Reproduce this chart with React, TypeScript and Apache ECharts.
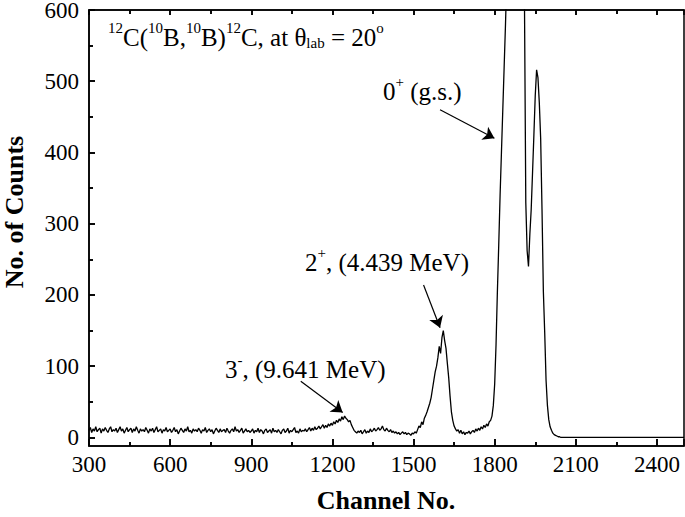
import { useEffect, useRef } from "react";
import * as echarts from "echarts";

// Background region: channels 300..1495, every 5 channels
const BG_START = 300;
const BG_STEP = 5;
const bgCounts = [
  10, 14, 7, 12, 9, 15, 8, 11, 13, 6, 12, 9, 14, 10, 7, 12, 15, 8, 11, 9,
  13, 7, 11, 15, 9, 12, 6, 10, 14, 8, 11, 13, 7, 12, 9, 15, 10, 6, 12, 9,
  11, 8, 14, 10, 6, 12, 9, 13, 7, 11, 15, 8, 10, 12, 6, 11, 9, 14, 8, 10,
  12, 7, 10, 14, 8, 11, 5, 9, 13, 10, 7, 12, 9, 15, 8, 10, 6, 12, 9, 11,
  8, 13, 10, 6, 11, 9, 14, 7, 10, 12, 8, 11, 5, 9, 13, 10, 7, 12, 8, 10,
  11, 7, 13, 9, 6, 10, 12, 8, 15, 9, 11, 7, 10, 13, 6, 9, 12, 8, 10, 7,
  9, 12, 6, 10, 8, 13, 7, 11, 9, 5, 10, 12, 7, 9, 11, 6, 13, 8, 10, 7,
  11, 8, 5, 10, 12, 7, 9, 13, 6, 10, 8, 11, 14, 7, 9, 6, 12, 8, 10, 9,
  12, 8, 11, 14, 9, 13, 10, 15, 11, 13, 16, 12, 15, 18, 13, 17, 14, 19, 16, 20,
  17, 22, 19, 24, 21, 26, 23, 29, 25, 30, 27, 25, 22, 24, 18, 14, 10, 8, 6, 9,
  7, 10, 5, 8, 11, 6, 9, 7, 12, 8, 10, 13, 9, 11, 14, 10, 12, 16, 11, 9,
  13, 10, 8, 11, 7, 9, 6, 8, 5, 7, 4, 6, 8, 5, 7, 4, 6, 5, 3, 6,
];

// Peak region: channels 1500..2060, every 5 channels
const PEAK_START = 1500;
const PEAK_STEP = 5;
const peakCounts = [
  5, 8, 6, 11, 16, 14, 22, 18, 27, 31,
  36, 42, 48, 56, 68, 80, 92, 100, 112, 128,
  118, 140, 150, 136, 125, 104, 84, 58, 36, 24,
  16, 12, 9, 11, 6, 10, 5, 8, 4, 7,
  6, 9, 5, 8, 10, 7, 12, 9, 13, 10,
  15, 12, 17, 14, 19, 16, 22, 24, 30, 45,
  75, 130, 205, 270, 340, 400, 460, 520, 580, 650,
  730, 820, 910, 990, 1050, 1090, 1080, 1040, 960, 860,
  780, 720, 620, 330, 262, 240, 285, 320, 372, 425,
  480, 516, 505, 470, 420, 320, 205, 147, 80, 45,
  25, 15, 10, 6, 4, 3, 2, 1, 1, 0,
  0, 0, 0,
];

// Flat tail
const tailChannels = [2100, 2500];
const tailCounts = [0, 0];

const X_MIN = 300;
const X_MAX = 2500;
const Y_MIN = -12;
const Y_MAX = 600;
const xMajorTicks = [300, 600, 900, 1200, 1500, 1800, 2100, 2400];
const xMinorTicks = [450, 750, 1050, 1350, 1650, 1950, 2250];
const yMajorTicks = [0, 100, 200, 300, 400, 500, 600];
const yMinorTicks = [50, 150, 250, 350, 450, 550];

// Annotation arrows
const arrowFrom = [
  [1598, 460],
  [1537, 214],
  [1083, 79],
];
const arrowTo = [
  [1799, 420],
  [1598, 154],
  [1238, 35],
];

const labelTexts = [
  "{sup|12}{n|C(}{sup|10}{n|B,}{sup|10}{n|B)}{sup|12}{n|C, at θ}{sub|lab}{n| = 20}{sup|o}",
  "{n|0}{sup|+}{n| (g.s.)}",
  "{n|2}{sup|+}{n|, (4.439 MeV)}",
  "{n|3}{sup|-}{n|, (9.641 MeV)}",
];
const labelPos = [
  [108, 20],
  [383, 74],
  [305, 245],
  [225, 352],
];

const FONT = "Liberation Serif";

export default function App() {
  const ref = useRef<HTMLDivElement>(null);
  useEffect(() => {
    document.body.style.margin = "0";
    if (!ref.current) return;
    const chart = echarts.init(ref.current, null, { renderer: "svg" });

    const data: number[][] = [];
    bgCounts.forEach((c, i) => data.push([BG_START + i * BG_STEP, c]));
    peakCounts.forEach((c, i) => data.push([PEAK_START + i * PEAK_STEP, c]));
    tailChannels.forEach((ch, i) => data.push([ch, tailCounts[i]]));

    const rich = {
      n: { fontSize: 25, lineHeight: 30, verticalAlign: "bottom", fontFamily: FONT, fill: "#000" },
      sup: { fontSize: 15, lineHeight: 21, verticalAlign: "top", fontFamily: FONT, fill: "#000" },
      sub: { fontSize: 15, lineHeight: 15, verticalAlign: "bottom", fontFamily: FONT, fill: "#000" },
    };

    const axisLineStyle = { color: "#000", width: 1.5 };
    const tickStyle = { color: "#000", width: 1.6 };

    // Tick-mark overlay in data units (lengths converted from the axis spans)
    const plotW = 685 - 89 - 1;
    const plotH = 517 - 10 - 71;
    const cPerPx = (X_MAX - X_MIN) / plotW;
    const vPerPx = (Y_MAX - Y_MIN) / plotH;
    const tickSeg = (a: number[], b: number[]) => [
      { coord: a, symbol: "none", lineStyle: { width: 1.6, color: "#000" } },
      { coord: b, symbol: "none" },
    ];
    const tickMarks: any[] = [];
    xMajorTicks.forEach((x) => {
      tickMarks.push(tickSeg([x, Y_MIN], [x, Y_MIN + 7 * vPerPx]));
      tickMarks.push(tickSeg([x, Y_MAX], [x, Y_MAX - 5 * vPerPx]));
    });
    xMinorTicks.forEach((x) => {
      tickMarks.push(tickSeg([x, Y_MIN], [x, Y_MIN + 4 * vPerPx]));
      tickMarks.push(tickSeg([x, Y_MAX], [x, Y_MAX - 4 * vPerPx]));
    });
    yMajorTicks.forEach((y) => tickMarks.push(tickSeg([X_MIN, y], [X_MIN + 6 * cPerPx, y])));
    yMinorTicks.forEach((y) => tickMarks.push(tickSeg([X_MIN, y], [X_MIN + 4 * cPerPx, y])));

    chart.setOption({
      animation: false,
      textStyle: { fontFamily: FONT },
      grid: {
        left: 89,
        right: 1,
        top: 10,
        bottom: 71,
        show: true,
        borderColor: "#000",
        borderWidth: 1.5,
        containLabel: false,
        outerBoundsMode: "none",
      },
      xAxis: [
        {
          type: "value",
          min: X_MIN,
          max: X_MAX,
          interval: 300,
          position: "bottom",
          splitLine: { show: false },
          axisLine: { show: true, onZero: false, lineStyle: axisLineStyle },
          axisTick: { show: true, inside: true, length: 7, lineStyle: tickStyle },
          minorTick: { show: true, splitNumber: 2, length: 4, lineStyle: tickStyle },
          axisLabel: {
            showMaxLabel: false,
            margin: 7,
            color: "#000",
            fontSize: 23,
            fontFamily: FONT,
            formatter: (v: number) => String(v),
          },
        },
        {
          type: "value",
          min: X_MIN,
          max: X_MAX,
          interval: 300,
          position: "top",
          splitLine: { show: false },
          axisLine: { show: true, onZero: false, lineStyle: axisLineStyle },
          axisTick: { show: true, inside: true, length: 5, lineStyle: tickStyle },
          minorTick: { show: true, splitNumber: 2, length: 4, lineStyle: tickStyle },
          axisLabel: { show: false },
        },
      ],
      yAxis: [
        {
          type: "value",
          min: Y_MIN,
          max: Y_MAX,
          position: "left",
          splitLine: { show: false },
          axisLine: { show: true, onZero: false, lineStyle: axisLineStyle },
          axisTick: { show: true, inside: true, length: 6, customValues: yMajorTicks, lineStyle: tickStyle },
          axisLabel: {
            customValues: yMajorTicks,
            margin: 10,
            color: "#000",
            fontSize: 23,
            lineHeight: 16,
            fontFamily: FONT,
          },
        },
        {
          type: "value",
          min: Y_MIN,
          max: Y_MAX,
          position: "left",
          splitLine: { show: false },
          axisLine: { show: false },
          axisTick: { show: true, inside: true, length: 4, customValues: yMinorTicks, lineStyle: tickStyle },
          axisLabel: { show: false },
        },
      ],
      series: [
        {
          type: "line",
          data,
          showSymbol: false,
          symbol: "none",
          lineStyle: { color: "#000", width: 1.3 },
          silent: true,
          markLine: {
            silent: true,
            symbol: ["none", "arrow"],
            symbolSize: 11,
            label: { show: false },
            lineStyle: { color: "#000", width: 1.2, type: "solid" },
            emphasis: { disabled: true },
            data: [
              ...arrowFrom.map((f, i) => [{ coord: f }, { coord: arrowTo[i] }]),
              ...tickMarks,
            ],
          },
        },
      ],
      graphic: [
        ...labelTexts.map((t, i) => ({
          type: "text",
          left: labelPos[i][0],
          top: labelPos[i][1],
          silent: true,
          style: { text: t, rich, fill: "#000" },
        })),
        {
          type: "text",
          x: 386,
          y: 500,
          silent: true,
          style: {
            text: "Channel No.",
            fontFamily: FONT,
            fontWeight: "bold",
            fontSize: 26,
            fill: "#000",
            textAlign: "center",
            textVerticalAlign: "middle",
          },
        },
        {
          type: "text",
          x: 14,
          y: 212,
          rotation: Math.PI / 2,
          silent: true,
          style: {
            text: "No. of Counts",
            fontFamily: FONT,
            fontWeight: "bold",
            fontSize: 26,
            lineHeight: 24,
            fill: "#000",
            textAlign: "center",
            textVerticalAlign: "middle",
          },
        },
      ],
    });
    return () => chart.dispose();
  }, []);
  return <div ref={ref} style={{ width: 685, height: 517 }} />;
}
